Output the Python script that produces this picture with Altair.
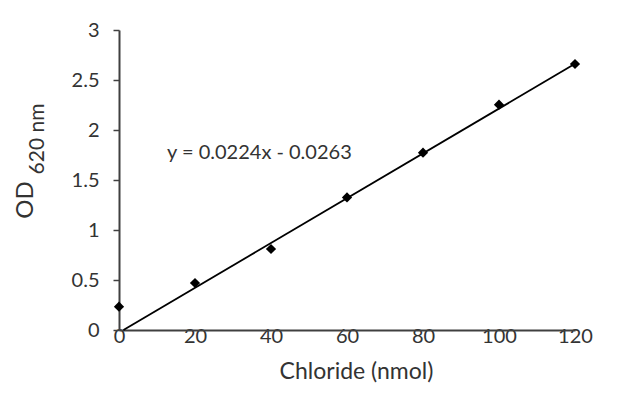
import altair as alt
import pandas as pd

# Data
chloride = [0, 20, 40, 60, 80, 100, 120]
od620 = [0.233, 0.47, 0.81, 1.326, 1.773, 2.253, 2.66]

# Trendline coefficients shown on the chart
slope = [0.0224]
intercept = [-0.0263]

x_ticks = [0, 20, 40, 60, 80, 100, 120]
y_ticks = [0, 0.5, 1, 1.5, 2, 2.5, 3]

equation = [f"y = {slope[0]}x - {abs(intercept[0])}"]

FONT = "Lato"
GREY = "#333333"
AXIS = "#404040"

pts = pd.DataFrame({"x": chloride, "y": od620})
x0 = -intercept[0] / slope[0]
line_df = pd.DataFrame({"x": [x0, x_ticks[-1]]})

xscale = alt.Scale(domain=[0, 120], nice=False, zero=False)
yscale = alt.Scale(domain=[0, 3], nice=False)

xaxis = alt.Axis(
    values=x_ticks, ticks=False, grid=False, domainColor=AXIS, domainWidth=2,
    labelFont=FONT, labelFontSize=20, labelColor=GREY, labelPadding=-4,
    labelFlush=False, labelOverlap=False,
    title="Chloride (nmol)", titleFont=FONT, titleFontSize=23, titleFontWeight="normal",
    titleColor=GREY, titleX=237, titleY=41, titleAlign="center", titleBaseline="middle",
)
yaxis = alt.Axis(
    values=y_ticks, grid=False, domainColor=AXIS, domainWidth=2, tickColor=AXIS,
    tickSize=6, tickWidth=1.5, labelFont=FONT, labelFontSize=20, labelColor=GREY,
    labelPadding=14, labelExpr="'' + datum.value", labelFlush=False, title=None,
)

points = alt.Chart(pts).mark_point(
    shape="diamond", filled=True, color="black", size=105, opacity=1
).encode(
    x=alt.X("x:Q", scale=xscale, axis=xaxis),
    y=alt.Y("y:Q", scale=yscale, axis=yaxis),
)

trend = alt.Chart(line_df).transform_calculate(
    y=f"{slope[0]} * datum.x + ({intercept[0]})"
).mark_line(color="black", strokeWidth=1.8).encode(
    x=alt.X("x:Q", scale=xscale),
    y=alt.Y("y:Q", scale=yscale),
)

eq_text = alt.Chart(pd.DataFrame({"t": equation})).mark_text(
    font=FONT, fontSize=20, color=GREY, align="left", baseline="middle"
).encode(x=alt.value(48), y=alt.value(123), text="t:N")

od_text = alt.Chart(pd.DataFrame({"t": ["OD"]})).mark_text(
    font=FONT, fontSize=24, color=GREY, angle=270, align="center", baseline="middle"
).encode(x=alt.value(-93), y=alt.value(170), text="t:N")

sub_text = alt.Chart(pd.DataFrame({"t": ["620 nm"]})).mark_text(
    font=FONT, fontSize=21, color=GREY, angle=270, align="center", baseline="middle"
).encode(x=alt.value(-81), y=alt.value(109), text="t:N")

chart = alt.layer(trend, points, eq_text, od_text, sub_text).properties(
    width=456, height=300,
    autosize=alt.AutoSizeParams(type="none"),
    padding={"left": 111, "top": 22, "right": 57, "bottom": 64},
    background="white",
).configure_view(stroke=None)

chart.save("out.html", embed_options={"renderer": "svg", "actions": False})
